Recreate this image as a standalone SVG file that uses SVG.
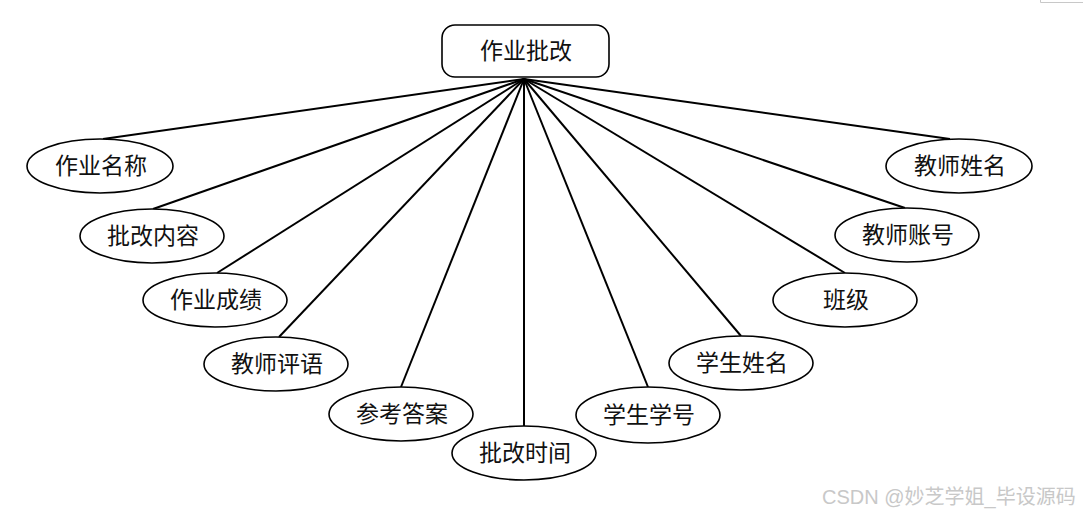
<svg xmlns="http://www.w3.org/2000/svg" width="1083" height="515" viewBox="0 0 1083 515">
<style>
.n{fill:#fff;stroke:#000;stroke-width:1.6}
.t{font-family:"Noto Sans CJK SC","Noto Sans",sans-serif;font-size:23px;fill:#111;text-anchor:middle;dominant-baseline:central}
.c line{stroke:#000;stroke-width:2}
.w{font-family:"Liberation Sans","Noto Sans CJK SC",sans-serif;font-size:20px;fill:#c8c8c8}
</style>
<rect width="1083" height="515" fill="#fff"/>
<path d="M1040.5 0V2.5H1083" fill="none" stroke="#c8c8c8" stroke-width="1"/>
<g class="c" id="connectors">
<line x1="524" y1="79" x2="103" y2="139"/>
<line x1="524" y1="79" x2="153" y2="209"/>
<line x1="524" y1="79" x2="217" y2="273"/>
<line x1="524" y1="79" x2="279" y2="337"/>
<line x1="524" y1="79" x2="401" y2="387"/>
<line x1="524" y1="79" x2="524" y2="426"/>
<line x1="524" y1="79" x2="648" y2="387"/>
<line x1="524" y1="79" x2="741" y2="336"/>
<line x1="524" y1="79" x2="845" y2="273"/>
<line x1="524" y1="79" x2="905" y2="208"/>
<line x1="524" y1="79" x2="950" y2="139"/>
</g>
<g id="root"><rect class="n" x="442" y="25" width="167" height="52" rx="13"/><text class="t" x="526" y="49">作业批改</text></g>
<g id="n1"><ellipse class="n" cx="100" cy="166" rx="73" ry="27"/><text class="t" x="101" y="164">作业名称</text></g>
<g id="n2"><ellipse class="n" cx="152" cy="236" rx="72" ry="27"/><text class="t" x="153" y="234">批改内容</text></g>
<g id="n3"><ellipse class="n" cx="215" cy="300" rx="72" ry="27"/><text class="t" x="216" y="298">作业成绩</text></g>
<g id="n4"><ellipse class="n" cx="276" cy="364" rx="72" ry="27"/><text class="t" x="277" y="362">教师评语</text></g>
<g id="n5"><ellipse class="n" cx="401" cy="414" rx="72" ry="27"/><text class="t" x="402" y="412">参考答案</text></g>
<g id="n6"><ellipse class="n" cx="524" cy="453" rx="72" ry="27"/><text class="t" x="525" y="451">批改时间</text></g>
<g id="n7"><ellipse class="n" cx="648" cy="415" rx="72" ry="28"/><text class="t" x="649" y="413">学生学号</text></g>
<g id="n8"><ellipse class="n" cx="741" cy="363" rx="72" ry="27"/><text class="t" x="742" y="361">学生姓名</text></g>
<g id="n9"><ellipse class="n" cx="845" cy="300" rx="72" ry="27"/><text class="t" x="846" y="298">班级</text></g>
<g id="n10"><ellipse class="n" cx="907" cy="235" rx="72" ry="27"/><text class="t" x="908" y="233">教师账号</text></g>
<g id="n11"><ellipse class="n" cx="959" cy="166" rx="73" ry="27"/><text class="t" x="960" y="164">教师姓名</text></g>
<text class="w" x="822" y="504">CSDN @妙芝学姐_毕设源码</text>
</svg>
